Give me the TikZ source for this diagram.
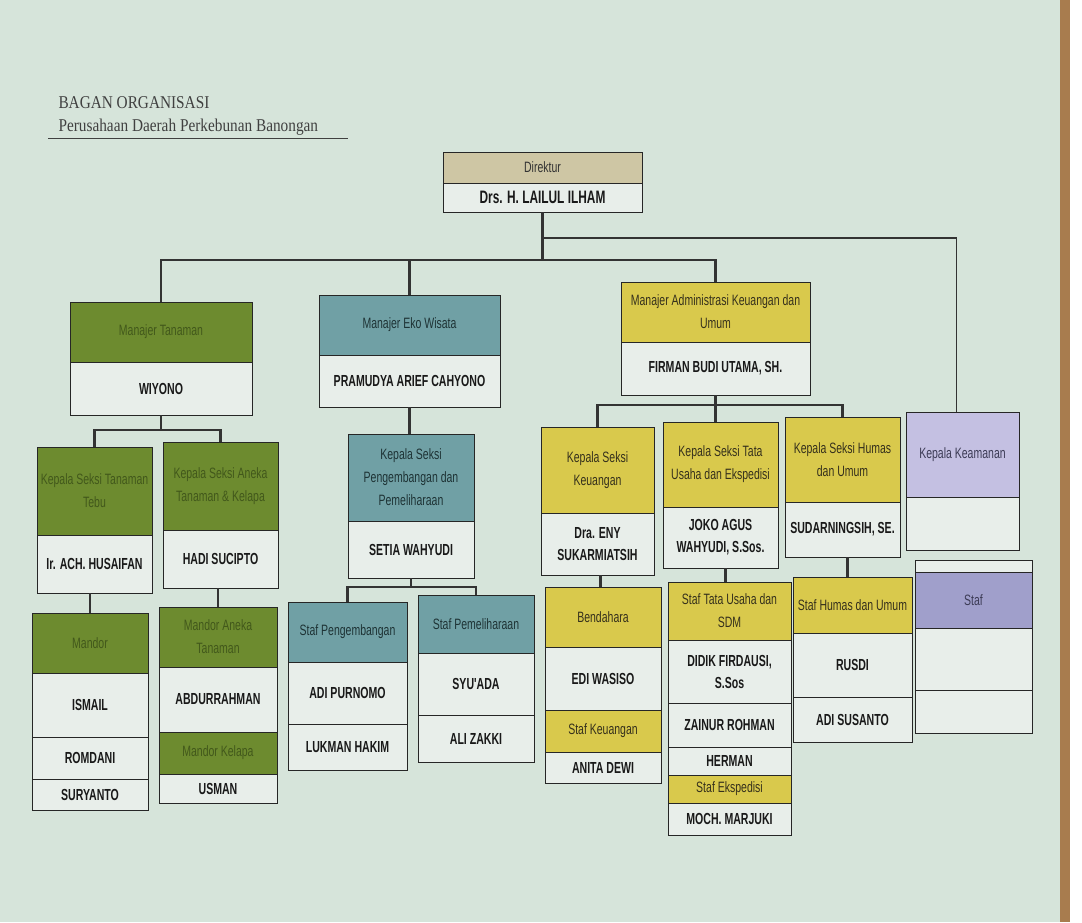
\documentclass[tikz,border=0pt]{standalone}
\usepackage{fontspec}
\setmainfont{Liberation Sans}
\newfontfamily\narrowfont[FakeStretch=0.7]{Liberation Sans}
\newfontfamily\namefont[FakeStretch=0.66]{Liberation Sans}
\newfontfamily\titlefont[FakeStretch=0.85]{Liberation Serif}
\usetikzlibrary{positioning}

\definecolor{paper}{HTML}{D6E4DA}
\definecolor{edge}{HTML}{A87C4E}
\definecolor{cellfill}{HTML}{E8EEEA}
\definecolor{grfill}{HTML}{6D8B2F}
\definecolor{grtext}{HTML}{42581B}
\definecolor{tlfill}{HTML}{70A0A5}
\definecolor{tltext}{HTML}{1E3335}
\definecolor{ylfill}{HTML}{D9C94C}
\definecolor{yltext}{HTML}{35301C}
\definecolor{pufill}{HTML}{C4C0E2}
\definecolor{pudark}{HTML}{A09FCB}
\definecolor{putext}{HTML}{3C3B55}
\definecolor{tnfill}{HTML}{CEC6A4}

\tikzset{
  cell/.style={draw=black!85, line width=0.8pt, inner sep=0pt, outer sep=0pt,
    anchor=north, align=center, font=\narrowfont\fontsize{15}{23}\selectfont},
  roleG/.style={cell, fill=grfill, text=grtext},
  roleT/.style={cell, fill=tlfill, text=tltext},
  roleY/.style={cell, fill=ylfill, text=yltext},
  roleP/.style={cell, fill=pufill, text=putext},
  roleQ/.style={cell, fill=pudark, text=putext},
  roleN/.style={cell, fill=tnfill, text=black!80},
  person/.style={cell, fill=cellfill, text=black!90,
    font=\namefont\bfseries\fontsize{16}{22}\selectfont},
  blank/.style={cell, fill=cellfill},
  bus/.style={draw=black!80, line width=2.6pt},
  thinbus/.style={draw=black!80, line width=1.8pt}
}

\begin{document}
\begin{tikzpicture}[x=1pt, y=-1pt]
  % page
  \fill[paper] (0,0) rectangle (1082,922);
  \fill[edge] (1060,0) rectangle (1070,922);
  \fill[white] (1070,0) rectangle (1082,922);
  \useasboundingbox (0,0) rectangle (1082,922);

  % title
  \node[anchor=base west, font=\titlefont\fontsize{18}{20}\selectfont, text=black!75] (ttl) at (55,108) {BAGAN ORGANISASI};
  \node[anchor=base west, font=\titlefont\fontsize{18}{20}\selectfont, text=black!75] (sub) at (55,131) {Perusahaan Daerah Perkebunan Banongan};
  \draw[black!75, line width=1pt] (48,138) -- (348,138);

  % Direktur
  \begin{scope}[nodes={minimum width=199}]
    \node[roleN, minimum height=31, anchor=north west] (dirH) at (443,152) {Direktur};
    \node[person, minimum height=29, below=0pt of dirH, font=\namefont\bfseries\fontsize{18}{20}\selectfont] (dirN) {Drs. H. LAILUL ILHAM};
  \end{scope}

  % Manajer
  \begin{scope}[nodes={minimum width=182}]
    \node[roleG, minimum height=60, anchor=north west] (mtH) at (70,302) {Manajer Tanaman};
    \node[person, minimum height=53, below=0pt of mtH] (mtN) {WIYONO};
  \end{scope}
  \begin{scope}[nodes={minimum width=181}]
    \node[roleT, minimum height=60, anchor=north west] (ekoH) at (319,295) {Manajer Eko Wisata};
    \node[person, minimum height=52, below=0pt of ekoH] (ekoN) {PRAMUDYA ARIEF CAHYONO};
  \end{scope}
  \begin{scope}[nodes={minimum width=189}]
    \node[roleY, minimum height=60, anchor=north west] (admH) at (621,282) {Manajer Administrasi Keuangan dan\\Umum};
    \node[person, minimum height=53, below=0pt of admH] (admN) {FIRMAN BUDI UTAMA, SH.};
  \end{scope}
  \begin{scope}[nodes={minimum width=113}]
    \node[roleP, minimum height=85, anchor=north west] (kkH) at (906,412) {Kepala Keamanan};
    \node[blank, minimum height=53, below=0pt of kkH] (kkN) {};
  \end{scope}

  % Kepala Seksi
  \begin{scope}[nodes={minimum width=115}]
    \node[roleG, minimum height=88, anchor=north west] (tebuH) at (37,447) {Kepala Seksi Tanaman\\Tebu};
    \node[person, minimum height=58, below=0pt of tebuH] (tebuN) {Ir. ACH. HUSAIFAN};
    \node[roleG, minimum height=88, anchor=north west] (anekaH) at (163,442) {Kepala Seksi Aneka\\Tanaman \& Kelapa};
    \node[person, minimum height=58, below=0pt of anekaH] (anekaN) {HADI SUCIPTO};
  \end{scope}
  \begin{scope}[nodes={minimum width=126}]
    \node[roleT, minimum height=87, anchor=north west] (kspH) at (348,434) {Kepala Seksi\\Pengembangan dan\\Pemeliharaan};
    \node[person, minimum height=57, below=0pt of kspH] (kspN) {SETIA WAHYUDI};
  \end{scope}
  \begin{scope}[nodes={minimum width=113}]
    \node[roleY, minimum height=86, anchor=north west] (ksuH) at (541,427) {Kepala Seksi\\Keuangan};
    \node[person, minimum height=62, below=0pt of ksuH] (ksuN) {Dra. ENY\\SUKARMIATSIH};
  \end{scope}
  \begin{scope}[nodes={minimum width=115}]
    \node[roleY, minimum height=85, anchor=north west] (kstH) at (663,422) {Kepala Seksi Tata\\Usaha dan Ekspedisi};
    \node[person, minimum height=61, below=0pt of kstH] (kstN) {JOKO AGUS\\WAHYUDI, S.Sos.};
    \node[roleY, minimum height=85, anchor=north west] (kshH) at (785,417) {Kepala Seksi Humas\\dan Umum};
    \node[person, minimum height=55, below=0pt of kshH] (kshN) {SUDARNINGSIH, SE.};
  \end{scope}

  % Mandor
  \begin{scope}[nodes={minimum width=116}]
    \node[roleG, minimum height=60, anchor=north west] (mdH) at (32,613) {Mandor};
    \node[person, minimum height=64, below=0pt of mdH] (mdA) {ISMAIL};
    \node[person, minimum height=42, below=0pt of mdA] (mdB) {ROMDANI};
    \node[person, minimum height=31, below=0pt of mdB] (mdC) {SURYANTO};
  \end{scope}
  \begin{scope}[nodes={minimum width=118}]
    \node[roleG, minimum height=60, anchor=north west] (mdaH) at (159,607) {Mandor Aneka\\Tanaman};
    \node[person, minimum height=65, below=0pt of mdaH] (mdaA) {ABDURRAHMAN};
    \node[roleG, minimum height=42, below=0pt of mdaA] (mdkH) {Mandor Kelapa};
    \node[person, minimum height=29, below=0pt of mdkH] (mdkA) {USMAN};
  \end{scope}

  % Staf Eko Wisata
  \begin{scope}[nodes={minimum width=119}]
    \node[roleT, minimum height=60, anchor=north west] (spgH) at (288,602) {Staf Pengembangan};
    \node[person, minimum height=62, below=0pt of spgH] (spgA) {ADI PURNOMO};
    \node[person, minimum height=46, below=0pt of spgA] (spgB) {LUKMAN HAKIM};
  \end{scope}
  \begin{scope}[nodes={minimum width=116}]
    \node[roleT, minimum height=58, anchor=north west] (spmH) at (418,595) {Staf Pemeliharaan};
    \node[person, minimum height=62, below=0pt of spmH] (spmA) {SYU'ADA};
    \node[person, minimum height=47, below=0pt of spmA] (spmB) {ALI ZAKKI};
  \end{scope}

  % Staf Administrasi
  \begin{scope}[nodes={minimum width=116}]
    \node[roleY, minimum height=60, anchor=north west] (bdH) at (545,587) {Bendahara};
    \node[person, minimum height=63, below=0pt of bdH] (bdA) {EDI WASISO};
    \node[roleY, minimum height=42, below=0pt of bdA] (skH) {Staf Keuangan};
    \node[person, minimum height=31, below=0pt of skH] (skA) {ANITA DEWI};
  \end{scope}
  \begin{scope}[nodes={minimum width=123}]
    \node[roleY, minimum height=58, anchor=north west] (stuH) at (668,582) {Staf Tata Usaha dan\\SDM};
    \node[person, minimum height=63, below=0pt of stuH] (stuA) {DIDIK FIRDAUSI,\\S.Sos};
    \node[person, minimum height=44, below=0pt of stuA] (stuB) {ZAINUR ROHMAN};
    \node[person, minimum height=28, below=0pt of stuB] (stuC) {HERMAN};
    \node[roleY, minimum height=28, below=0pt of stuC] (sexH) {Staf Ekspedisi};
    \node[person, minimum height=32, below=0pt of sexH] (sexA) {MOCH. MARJUKI};
  \end{scope}
  \begin{scope}[nodes={minimum width=119}]
    \node[roleY, minimum height=56, anchor=north west] (shuH) at (793,577) {Staf Humas dan Umum};
    \node[person, minimum height=64, below=0pt of shuH] (shuA) {RUSDI};
    \node[person, minimum height=45, below=0pt of shuA] (shuB) {ADI SUSANTO};
  \end{scope}
  \begin{scope}[nodes={minimum width=117}]
    \node[blank, minimum height=12, anchor=north west] (stfT) at (915,560) {};
    \node[roleQ, minimum height=56, below=0pt of stfT] (stfH) {Staf};
    \node[blank, minimum height=62, below=0pt of stfH] (stfA) {};
    \node[blank, minimum height=43, below=0pt of stfA] (stfB) {};
  \end{scope}

  % connectors
  \coordinate (busK) at ([yshift=-26pt]dirN.south);
  \coordinate (busA) at ([yshift=-48pt]dirN.south);
  \draw[bus] (dirN.south) -- (busA);
  \draw[thinbus] (busK) -| ([xshift=-6pt]kkH.north);
  \draw[bus] (mtH.north) |- (admH.north |- busA) -- (admH.north);
  \draw[bus] (ekoH.north) -- (ekoH.north |- busA);
  \draw[bus] (ekoN.south) -- (ekoN.south |- kspH.north);

  \draw[bus] (mtN.south) -- ++(0,15) -| (tebuH.north);
  \draw[bus] (mtN.south) ++(0,15) -| (anekaH.north);
  \draw[bus] (kspN.south) -- ++(0,9) -| (spgH.north);
  \draw[bus] (kspN.south) ++(0,9) -| (spmH.north);
  \draw[bus] (admN.south) -- ++(0,10) -| (ksuH.north);
  \draw[bus] (admN.south) ++(0,10) -| (kshH.north);
  \draw[bus] (admN.south) -- (admN.south |- kstH.north);

  \draw[bus] (mdH.north) -- (mdH.north |- tebuN.south);
  \draw[bus] (mdaH.north) -- (mdaH.north |- anekaN.south);
  \draw[bus] ([xshift=3pt]ksuN.south) -- ([xshift=3pt]ksuN.south |- bdH.north);
  \draw[bus] ([xshift=5pt]kstN.south) -- ([xshift=5pt]kstN.south |- stuH.north);
  \draw[bus] ([xshift=5pt]kshN.south) -- ([xshift=5pt]kshN.south |- shuH.north);
\end{tikzpicture}
\end{document}
